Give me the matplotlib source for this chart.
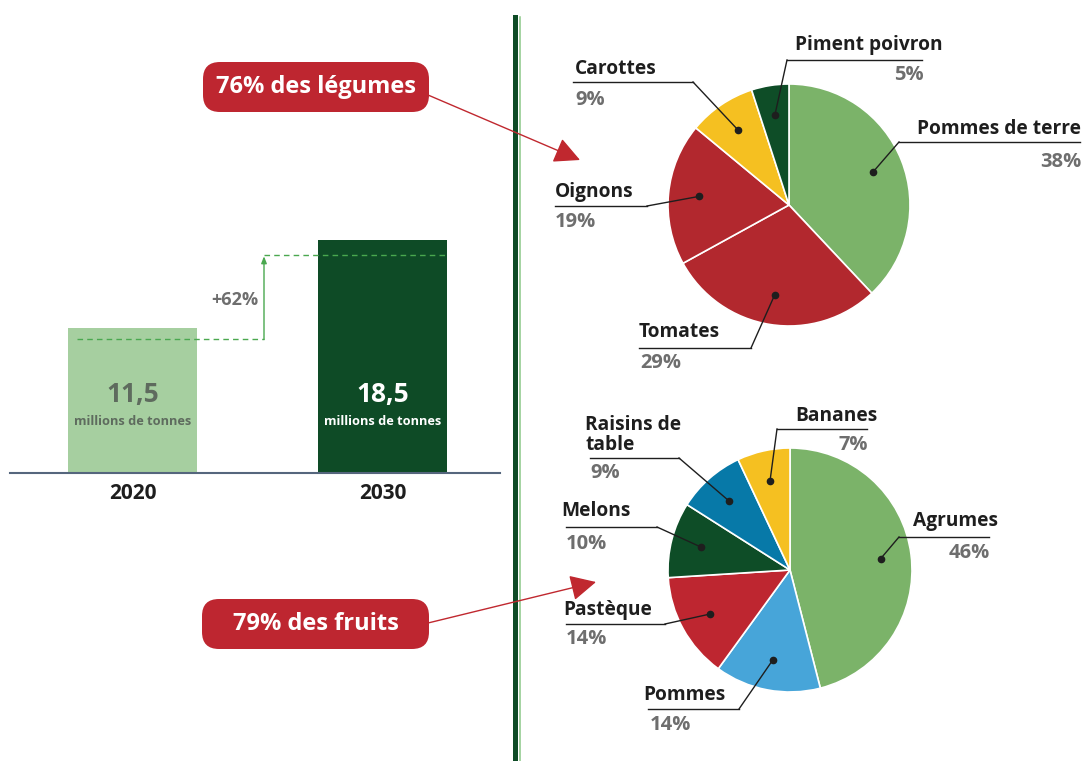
import numpy as np
import matplotlib
matplotlib.use('Agg')
import matplotlib.pyplot as plt
from matplotlib.patches import FancyBboxPatch

plt.rcParams['font.family'] = ['Open Sans', 'DejaVu Sans']

# données
annees = ['2020', '2030']
production = [11.5, 18.5]          # millions de tonnes
hausse = '+62%'

legumes = ['Pommes de terre', 'Tomates', 'Oignons', 'Carottes', 'Piment poivron']
legumes_pct = [38, 29, 19, 9, 5]
fruits = ['Agrumes', 'Pommes', 'Pastèque', 'Melons', 'Raisins de\ntable', 'Bananes']
fruits_pct = [46, 14, 14, 10, 9, 7]
part_legumes = 76
part_fruits = 79

# couleurs
c_legumes = ['#7bb369', '#b2282e', '#b2282e', '#f5c021', '#0e4d27']
c_fruits = ['#7bb369', '#47a5d9', '#be2630', '#0e4d27', '#0779a8', '#f5c021']
rouge = '#be2630'
gris = '#6e6e6e'
noir = '#1e1e1e'

W, H = 1083, 761
fig = plt.figure(figsize=(W / 100, H / 100), dpi=100)


def py(y):
    # y en pixels depuis le haut -> coordonnées du calque
    return H - y


# ---- histogramme 2020 / 2030 ----
px_unite = 12.6
axb = fig.add_axes([10 / W, (H - 473) / H, 490 / W, 253 / H])
x = np.arange(len(annees))
axb.bar(x, production, width=0.516, color=['#a6cfa0', '#0e4b26'])
axb.set_xlim(-0.49, 1.47)
axb.set_ylim(0, 253 / px_unite)
for s in ['top', 'right', 'left']:
    axb.spines[s].set_visible(False)
axb.spines['bottom'].set_color('#55667d')
axb.spines['bottom'].set_linewidth(1.5)
axb.set_yticks([])
axb.set_xticks(x, annees, fontsize=15, fontweight='bold', color=noir)
axb.tick_params(axis='x', length=0, pad=7)

col_txt = ['#5e6b5e', 'white']
for i, v in enumerate(production):
    axb.text(x[i], 6.2, f'{v:.1f}'.replace('.', ','), ha='center', va='center',
             fontsize=19, fontweight='bold', color=col_txt[i])
    axb.text(x[i], 4.05, 'millions de tonnes', ha='center', va='center',
             fontsize=9.2, fontweight='bold', color=col_txt[i])

# lignes pointillées + flèche de progression
vert = '#4aa84f'
y0 = production[0] - 0.9
y1 = production[1] - 1.2
xm = 0.526
axb.plot([-0.222, xm], [y0, y0], ls=(0, (4, 3)), color=vert, lw=1)
axb.plot([xm, 1.258], [y1, y1], ls=(0, (4, 3)), color=vert, lw=1)
axb.annotate('', xy=(xm, y1 - 0.1), xytext=(xm, y0),
             arrowprops=dict(arrowstyle='-|>,head_length=0.5,head_width=0.2',
                             color=vert, lw=1, mutation_scale=8, shrinkA=0, shrinkB=0))
axb.text(xm - 0.024, (y0 + y1) / 2 - 0.25, hausse, ha='right', va='center',
         fontsize=13, fontweight='bold', color=gris)

# ---- camemberts ----
def camembert(cx, cy, r, vals, cols):
    taille = 2.5 * r
    ax = fig.add_axes([(cx - taille / 2) / W, (H - cy - taille / 2) / H, taille / W, taille / H])
    wedges, _ = ax.pie(vals, colors=cols, startangle=90, counterclock=False,
                       wedgeprops=dict(edgecolor='white', linewidth=1.2))
    ax.set_xlim(-1.25, 1.25)
    ax.set_ylim(-1.25, 1.25)
    ax.set_aspect('equal')
    return ax, wedges


ax_leg, w_leg = camembert(789, 205, 121, legumes_pct, c_legumes)
ax_fru, w_fru = camembert(790, 570, 122, fruits_pct, c_fruits)

# calque en pixels pour les annotations
ov = fig.add_axes([0, 0, 1, 1], zorder=5)
ov.set_xlim(0, W)
ov.set_ylim(0, H)
ov.axis('off')
ov.patch.set_alpha(0)

# position des étiquettes : texte, pourcentage, trait (x0, x1, y), coude
pos_leg = [
    ((1081, 129, 'right'), (1081, 162, 'right'), (899, 1080, 142), 899),
    ((639, 332, 'left'), (640, 363, 'left'), (639, 751, 348), 751),
    ((555, 192, 'left'), (555, 222, 'left'), (555, 647, 206), 647),
    ((575, 69, 'left'), (575, 100, 'left'), (573, 693, 82), 693),
    ((795, 45, 'left'), (924, 75, 'right'), (787, 922, 60), 787),
]
pos_fru = [
    ((913, 521, 'left'), (990, 553, 'right'), (899, 989, 537), 899),
    ((643, 695, 'left'), (650, 725, 'left'), (648, 739, 709), 739),
    ((563, 610, 'left'), (566, 639, 'left'), (566, 665, 624), 665),
    ((561, 511, 'left'), (566, 544, 'left'), (566, 657, 527), 657),
    ((585, 435, 'left'), (590, 473, 'left'), (590, 679, 458), 679),
    ((795, 416, 'left'), (868, 445, 'right'), (777, 867, 429), 777),
]


def etiquettes(ax, wedges, noms, pcts, positions):
    for w, nom, p, (t, pc, ligne, ex) in zip(wedges, noms, pcts, positions):
        th = np.deg2rad((w.theta1 + w.theta2) / 2)
        dx, dy = ax.transData.transform((0.75 * np.cos(th), 0.75 * np.sin(th)))
        ux0, ux1, uy = ligne
        ov.plot([dx, ex], [dy, py(uy)], color=noir, lw=1)
        ov.plot([ux0, ux1], [py(uy), py(uy)], color=noir, lw=1)
        ov.plot(dx, dy, 'o', color=noir, ms=4.5)
        ov.text(t[0], py(t[1]), nom, ha=t[2], va='center', fontsize=13.8,
                fontweight='bold', color=noir, linespacing=1.05)
        ov.text(pc[0], py(pc[1]), f'{p}%', ha=pc[2], va='center', fontsize=14.5,
                fontweight='bold', color=gris)


etiquettes(ax_leg, w_leg, legumes, legumes_pct, pos_leg)
etiquettes(ax_fru, w_fru, fruits, fruits_pct, pos_fru)

# séparateur vertical
ov.plot([514.5, 514.5], [py(17), 0], color='#0e4b26', lw=3.6)
ov.plot([520, 520], [py(17), 0], color='#8cc887', lw=1.1)

# pastilles rouges et flèches
bulles = [
    (f'{part_legumes}% des légumes', (203, 62, 429, 112), (428, 95), (580, 160)),
    (f'{part_fruits}% des fruits', (202, 599, 429, 649), (428, 623), (596, 582)),
]
for txt, (bx0, by0, bx1, by1), dep, pointe in bulles:
    ov.add_patch(FancyBboxPatch((bx0, py(by1)), bx1 - bx0, by1 - by0,
                                boxstyle='round,pad=0,rounding_size=17',
                                fc=rouge, ec='none'))
    ov.text((bx0 + bx1) / 2, py((by0 + by1) / 2), txt, ha='center', va='center',
            fontsize=17, fontweight='bold', color='white')
    ov.annotate('', xy=(pointe[0], py(pointe[1])), xytext=(dep[0], py(dep[1])),
                arrowprops=dict(arrowstyle='-|>,head_length=0.8,head_width=0.4',
                                color='#c0282f', lw=1, mutation_scale=20,
                                shrinkA=0, shrinkB=0))

fig.savefig('out.png', dpi=100)
